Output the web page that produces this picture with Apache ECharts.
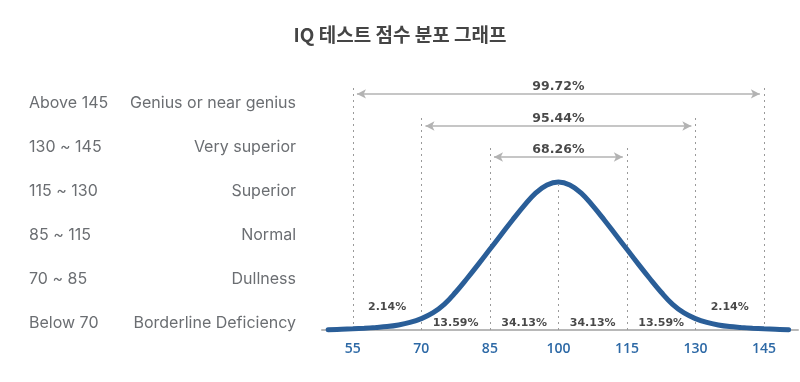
<!DOCTYPE html>
<html>
<head>
<meta charset="utf-8">
<script src="https://cdn.jsdelivr.net/npm/echarts@6/dist/echarts.min.js"></script>
<style>
html,body{margin:0;padding:0;background:#fff;}
#main{width:800px;height:382px;}
</style>
</head>
<body>
<div id="main"></div>
<script>
// ---- data ----
const titleText = 'IQ 테스트 점수 분포 그래프';
const curveX = [49.6, 52.5, 55, 57.5, 60, 62.5, 65, 67.5, 70, 72.5, 75, 77.5, 80, 82.5, 85, 87.5, 90, 92.5, 95, 97.5, 100,
                102.5, 105, 107.5, 110, 112.5, 115, 117.5, 120, 122.5, 125, 127.5, 130, 132.5, 135, 137.5, 140, 142.5, 145, 147.5, 150.4];
const curveY = [0.1, 0.5, 0.8, 1.2, 1.7, 2.3, 3.4, 5.1, 7.7, 11.5, 17.3, 25.5, 34.8, 44.5, 54.5, 64.5, 74.5, 84, 92.5, 98, 100,
                98, 92.5, 84, 74.5, 64.5, 54.5, 44.5, 34.8, 25.5, 17.3, 11.5, 7.7, 5.1, 3.4, 2.3, 1.7, 1.2, 0.8, 0.5, 0.1];
const tickValues = [55, 70, 85, 100, 115, 130, 145];
const rangeBounds = [[55, 145], [70, 130], [85, 115]];
const rangeLabels = ['99.72%', '95.44%', '68.26%'];
const bandLabels = ['2.14%', '13.59%', '34.13%', '34.13%', '13.59%', '2.14%'];
const rowRanges = ['Above 145', '130 ~ 145', '115 ~ 130', '85 ~ 115', '70 ~ 85', 'Below 70'];
const rowNames = ['Genius or near genius', 'Very superior', 'Superior', 'Normal', 'Dullness', 'Borderline Deficiency'];

// ---- layout (not data) ----
const Y_MIN = -2.7, Y_MAX = 182.4;
const rangeTop = [165.5, 143.9, 123];      // top of dashed guide lines for each range
const rangeArrowY = [159.5, 137.8, 116.9];  // arrow heights
const rangeLabelY = [164.3, 142.6, 121.6];  // label heights
const centerLineTop = 98;
const bandLabelY = [15.2, 4.6, 4.6, 4.6, 4.6, 15.2];
const arrowGap = 0.9;

const chart = echarts.init(document.getElementById('main'), null, {renderer: 'canvas'});

// dashed vertical guides
const guideData = [];
rangeBounds.forEach((b, i) => {
  b.forEach(v => guideData.push([{coord: [v, 0]}, {coord: [v, rangeTop[i]]}]));
});
guideData.push([{coord: [100, 0]}, {coord: [100, centerLineTop]}]);

// arrows
const arrowData = rangeBounds.map((b, i) => [
  {coord: [b[0] + arrowGap, rangeArrowY[i]]},
  {coord: [b[1] - arrowGap, rangeArrowY[i]]}
]);

// labels
const labelPoints = [];
rangeBounds.forEach((b, i) => labelPoints.push({value: [(b[0] + b[1]) / 2, rangeLabelY[i]], name: rangeLabels[i], fs: 12.5}));
bandLabels.forEach((t, i) => labelPoints.push({
  value: [(tickValues[i] + tickValues[i + 1]) / 2, bandLabelY[i]], name: t, fs: 11
}));

const graphics = [];
rowRanges.forEach((t, i) => {
  const y = 102 + i * 44;
  graphics.push({type: 'text', left: 29, top: y - 7, style: {text: t, font: '400 16px Inter', fill: '#6b6e72'}});
  graphics.push({type: 'text', right: 504, top: y - 7, style: {text: rowNames[i], font: '400 16px Inter', fill: '#6b6e72'}});
});

chart.setOption({
  animation: false,
  backgroundColor: '#ffffff',
  title: {
    text: titleText, left: 'center', top: 20,
    textStyle: {fontFamily: '"Noto Sans CJK KR", sans-serif', fontSize: 19, fontWeight: 'bold', color: '#454545'}
  },
  grid: {left: 322, right: 2, top: 60, bottom: 48},
  xAxis: {
    type: 'value', min: 48.25, max: 152.45,
    axisLine: {lineStyle: {color: '#b8b8b8', width: 2}},
    axisTick: {show: false},
    splitLine: {show: false},
    axisLabel: {
      customValues: tickValues, margin: 8,
      color: '#2d69a6', fontSize: 14, fontWeight: 600, fontFamily: '"Open Sans", sans-serif'
    }
  },
  yAxis: {type: 'value', min: Y_MIN, max: Y_MAX, show: false},
  graphic: graphics,
  series: [
    {
      type: 'line', silent: true, symbol: 'none', z: 1,
      data: [],
      markLine: {
        silent: true, symbol: ['none', 'none'], animation: false,
        lineStyle: {color: '#9a9a9a', type: [2, 4], width: 1},
        label: {show: false},
        data: guideData
      }
    },
    {
      type: 'line', silent: true, symbol: 'none', z: 2,
      data: [],
      markLine: {
        silent: true, symbol: ['arrow', 'arrow'], symbolSize: [7, 9], animation: false,
        lineStyle: {color: '#b3b3b3', type: 'solid', width: 1.5},
        itemStyle: {color: '#b3b3b3'},
        label: {show: false},
        data: arrowData
      }
    },
    {
      type: 'line', silent: true, symbol: 'none', smooth: 0.4, z: 5,
      data: curveX.map((x, i) => [x, curveY[i]]),
      lineStyle: {color: '#2a5e98', width: 5, cap: 'round'}
    },
    {
      type: 'scatter', silent: true, symbolSize: 0, z: 6,
      data: labelPoints.map(p => ({
        value: p.value, name: p.name,
        label: {fontSize: p.fs}
      })),
      label: {
        show: true, position: 'inside', formatter: p => p.name,
        color: '#1a1a1a', fontWeight: 'bold', fontFamily: '"DejaVu Sans", sans-serif'
      }
    }
  ]
});
</script>
</body>
</html>
